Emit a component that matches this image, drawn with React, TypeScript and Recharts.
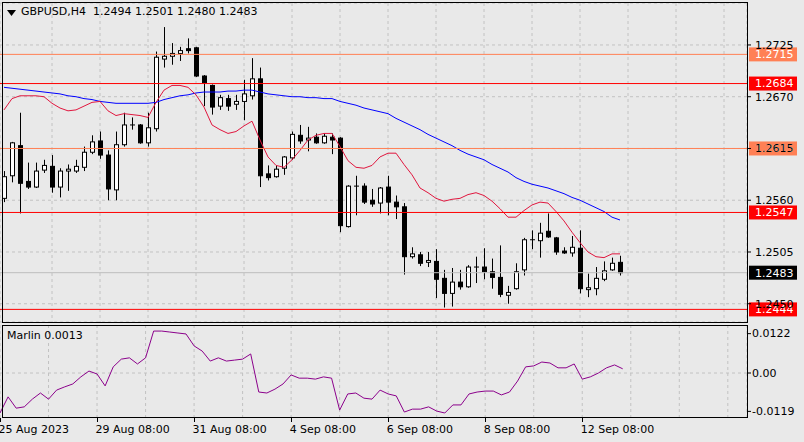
import React from "react"
import { ComposedChart, Bar, Line, XAxis, YAxis, CartesianGrid, ReferenceLine } from "recharts"

// GBPUSD H4, 78 bars (28 Aug .. 13 Sep 2023)
const symbol = "GBPUSD,H4"
const indicatorName = "Marlin"

const opens = [
  1.2562, 1.2586, 1.2618, 1.258, 1.2574, 1.2592, 1.2596, 1.2574, 1.2591, 1.2591,
  1.2595, 1.2611, 1.2623, 1.2608, 1.2571, 1.2619, 1.264, 1.264, 1.2621, 1.2636,
  1.271, 1.2713, 1.2716, 1.2721, 1.2722, 1.2692, 1.2682, 1.266, 1.2668, 1.2662,
  1.2665, 1.2671, 1.2689, 1.2588, 1.2585, 1.2594, 1.2605, 1.2629, 1.2624, 1.2627,
  1.2621, 1.2627, 1.2626, 1.2532, 1.2575, 1.2575, 1.256, 1.2557, 1.2574, 1.2558,
  1.2553, 1.25, 1.2502, 1.2494, 1.2495, 1.2477, 1.2461, 1.2473, 1.2468, 1.2489,
  1.2489, 1.2484, 1.2478, 1.2459, 1.2466, 1.2486, 1.2518, 1.2517, 1.2527, 1.252,
  1.2506, 1.2504, 1.2509, 1.2465, 1.2466, 1.2476, 1.2486, 1.2494,
]
const highs = [
  1.2591, 1.2622, 1.2653, 1.26, 1.26, 1.2603, 1.2608, 1.2594, 1.2598, 1.2603,
  1.2617, 1.2629, 1.2633, 1.2613, 1.2633, 1.2653, 1.2648, 1.2641, 1.2653, 1.2718,
  1.2744, 1.2727, 1.2723, 1.2732, 1.2723, 1.2693, 1.2683, 1.2672, 1.2672, 1.2672,
  1.2688, 1.2711, 1.2701, 1.2597, 1.2597, 1.2607, 1.2633, 1.264, 1.2638, 1.2631,
  1.2631, 1.2631, 1.2627, 1.2576, 1.2586, 1.2578, 1.2572, 1.2574, 1.2586, 1.2565,
  1.2557, 1.251, 1.2505, 1.2505, 1.2508, 1.2486, 1.2488, 1.2486, 1.2491, 1.25,
  1.2509, 1.2498, 1.2512, 1.2469, 1.2493, 1.252, 1.2528, 1.2536, 1.2546, 1.2521,
  1.251, 1.2522, 1.2528, 1.2482, 1.2489, 1.2495, 1.2499, 1.2501,
]
const lows = [
  1.2558, 1.2579, 1.2546, 1.2572, 1.2573, 1.2589, 1.2568, 1.2563, 1.257, 1.2589,
  1.2591, 1.2609, 1.2604, 1.256, 1.256, 1.2617, 1.2635, 1.262, 1.2617, 1.2633,
  1.2701, 1.2704, 1.2708, 1.2716, 1.2691, 1.266, 1.2651, 1.2656, 1.2655, 1.2656,
  1.2645, 1.2667, 1.2574, 1.2581, 1.2584, 1.2587, 1.2603, 1.262, 1.2612, 1.262,
  1.262, 1.2609, 1.2526, 1.2531, 1.2544, 1.2556, 1.2553, 1.2546, 1.2544, 1.254,
  1.2481, 1.2498, 1.249, 1.2489, 1.2456, 1.2446, 1.2447, 1.2465, 1.2467, 1.2472,
  1.2476, 1.2466, 1.2457, 1.245, 1.2465, 1.248, 1.2508, 1.2499, 1.252, 1.2502,
  1.2503, 1.25, 1.2461, 1.2457, 1.2459, 1.2474, 1.2485, 1.248,
]
const closes = [
  1.2585, 1.2621, 1.2578, 1.2574, 1.2591, 1.2597, 1.2574, 1.2591, 1.2593, 1.2596,
  1.2611, 1.2622, 1.2608, 1.2572, 1.2619, 1.264, 1.264, 1.2621, 1.2637, 1.2712,
  1.2713, 1.2716, 1.2719, 1.2719, 1.2692, 1.2685, 1.2659, 1.2669, 1.266, 1.2665,
  1.2673, 1.2689, 1.2586, 1.2584, 1.2593, 1.2606, 1.263, 1.2623, 1.2626, 1.2621,
  1.2628, 1.2624, 1.2533, 1.2575, 1.2574, 1.2558, 1.2556, 1.2573, 1.2558, 1.2553,
  1.25, 1.2503, 1.2493, 1.2496, 1.2476, 1.2461, 1.2473, 1.2468, 1.2489, 1.2488,
  1.2484, 1.2478, 1.246, 1.2462, 1.2484, 1.2518, 1.2517, 1.2525, 1.2521, 1.2505,
  1.2504, 1.251, 1.2466, 1.2467, 1.2477, 1.2485, 1.2493, 1.2483,
]
const fastMa = [
  1.2656, 1.2668, 1.2671, 1.2671, 1.2671, 1.267, 1.2663, 1.2658, 1.2655, 1.2656,
  1.266, 1.2664, 1.2665, 1.2655, 1.265, 1.2652, 1.2651, 1.265, 1.2648, 1.2664,
  1.2677, 1.2682, 1.2682, 1.268, 1.2672, 1.2659, 1.264, 1.2635, 1.2631, 1.2633,
  1.2639, 1.2644, 1.2624, 1.2606, 1.2597, 1.2595, 1.2603, 1.2613, 1.2624, 1.2629,
  1.2631, 1.2631, 1.2617, 1.2602, 1.2595, 1.2594, 1.2597, 1.2606, 1.261, 1.261,
  1.2598, 1.2587, 1.2573, 1.2568, 1.2562, 1.2559, 1.2561, 1.2562, 1.2566, 1.2568,
  1.2565, 1.2559, 1.2551, 1.2542, 1.2542, 1.2549, 1.2555, 1.2558, 1.2557, 1.2548,
  1.2538, 1.2526, 1.2515, 1.2505, 1.25, 1.2499, 1.2503, 1.2503,
]
const slowMa = [
  1.268, 1.2679, 1.2678, 1.2677, 1.2676, 1.2675, 1.2674, 1.2673, 1.2671, 1.267,
  1.2668, 1.2667, 1.2665, 1.2664, 1.2663, 1.2663, 1.2663, 1.2663, 1.2663, 1.2664,
  1.2667, 1.2669, 1.2671, 1.2672, 1.2674, 1.2675, 1.2675, 1.2675, 1.2676, 1.2676,
  1.2677, 1.2677, 1.2675, 1.2673, 1.2672, 1.2671, 1.267, 1.267, 1.2669, 1.2669,
  1.2668, 1.2668, 1.2665, 1.2663, 1.2661, 1.2658, 1.2656, 1.2654, 1.2652, 1.2647,
  1.2643, 1.2639, 1.2635, 1.263, 1.2626, 1.2622, 1.2618, 1.2613, 1.2609, 1.2606,
  1.2603, 1.2598, 1.2594, 1.259, 1.2584, 1.258, 1.2577, 1.2575, 1.2573, 1.257,
  1.2567, 1.2563, 1.256, 1.2556, 1.2552, 1.2548, 1.2542, 1.2539,
]
const marlin = [
  -0.0124, -0.0074, -0.0109, -0.0105, -0.0081, -0.0062, -0.0081, -0.0053, -0.0043, -0.0034,
  -0.0012, 0.0006, -0.0003, -0.004, 0.0019, 0.0043, 0.0047, 0.0028, 0.0047, 0.013,
  0.013, 0.0127, 0.0124, 0.0121, 0.0084, 0.0068, 0.0037, 0.0047, 0.0037, 0.004,
  0.0043, 0.0059, -0.0059, -0.0062, -0.005, -0.0034, -0.0006, -0.0016, -0.0016, -0.0019,
  -0.0012, -0.0016, -0.0115, -0.0065, -0.0062, -0.0078, -0.0081, -0.0053, -0.0065, -0.0071,
  -0.0121, -0.0112, -0.0112, -0.0105, -0.0118, -0.0124, -0.0099, -0.0099, -0.0065, -0.0059,
  -0.0056, -0.0056, -0.0068, -0.0059, -0.0025, 0.0019, 0.0022, 0.0034, 0.0031, 0.0016,
  0.0016, 0.0028, -0.0019, -0.0012, 0.0, 0.0016, 0.0025, 0.0013,
]

const timeTickIdx = [0, 12, 24, 36, 48, 60, 72]
const timeTickText = ["25 Aug 2023", "29 Aug 08:00", "31 Aug 08:00", "4 Sep 08:00", "6 Sep 08:00", "8 Sep 08:00", "12 Sep 08:00"]
const gridIdx = [6, 12, 18, 24, 30, 36, 42, 48, 54, 60, 66, 72, 78, 84, 90]
const priceTicks = [1.245, 1.2505, 1.256, 1.2615, 1.267, 1.2725]
const marlinTicks = [-0.0119, 0, 0.0122]
const redLevels = [1.2684, 1.2547, 1.2444]
const softLevels = [1.2715, 1.2615]

const SLOTS = 93 // bars + empty space to the right
const FONT = "'DejaVu Sans', Verdana, sans-serif"
const BG = "#e9e9e9"
const RED = "#ff0000"
const SOFT = "#ff8055"

const last = opens.length - 1
const rows = Array.from({ length: SLOTS }, (_, i) =>
  i <= last
    ? {
        i,
        open: opens[i],
        high: highs[i],
        low: lows[i],
        close: closes[i],
        range: [lows[i], highs[i]],
        fast: fastMa[i],
        slow: slowMa[i],
        marlin: marlin[i],
      }
    : { i }
)

function Candle(props: any) {
  const { x, y, width, height, payload } = props
  if (!payload || payload.open == null) return null
  const { open, high, low, close } = payload
  const top = Math.min(y, y + height)
  const h = Math.abs(height)
  const k = h / (high - low)
  const py = (p: number) => top + (high - p) * k
  const cx = Math.round(x + width / 2) + 0.5
  const bTop = py(Math.max(open, close))
  const bBot = py(Math.min(open, close))
  return (
    <g>
      <line x1={cx} x2={cx} y1={top} y2={top + h} stroke="#000" />
      {bBot - bTop < 1 ? (
        <line x1={cx - 2.5} x2={cx + 2.5} y1={bTop} y2={bTop} stroke="#000" />
      ) : (
        <rect x={cx - 2} y={bTop} width={4} height={bBot - bTop} fill={close >= open ? "#fff" : "#000"} stroke="#000" />
      )}
    </g>
  )
}

function PriceTick(props: any) {
  const { y, payload } = props
  return (
    <g>
      <line x1={748} x2={751} y1={y} y2={y} stroke="#000" />
      <text x={755} y={y} dy="0.35em" fontSize={11} fontFamily={FONT} fill="#000">
        {payload.value.toFixed(4)}
      </text>
    </g>
  )
}

function MarlinTick(props: any) {
  const { y, payload } = props
  return (
    <g>
      <line x1={748} x2={751} y1={y} y2={y} stroke="#000" />
      <text x={752} y={y} dy="0.35em" fontSize={11} fontFamily={FONT} fill="#000">
        {payload.value === 0 ? "0.00" : payload.value.toFixed(4)}
      </text>
    </g>
  )
}

function TimeTick(props: any) {
  const { x, payload } = props
  const k = timeTickIdx.indexOf(payload.value)
  const px = Math.round(x) + 0.5
  return (
    <g>
      <line x1={px} x2={px} y1={93} y2={97} stroke="#000" />
      <text x={x - 1.5} y={108} fontSize={11} fontFamily={FONT} fill="#000">
        {timeTickText[k]}
      </text>
    </g>
  )
}

const priceTag = (value: number, bg: string) => (p: any) => {
  const vy = p.viewBox ? p.viewBox.y : 0
  return (
    <g>
      <rect x={749} y={vy - 7} width={48} height={14} fill={bg} />
      <text x={755} y={vy} dy="0.35em" fontSize={11} fontFamily={FONT} fill="#fff">
        {value.toFixed(4)}
      </text>
    </g>
  )
}

export default function App() {
  const title = `${symbol}  ${opens[last].toFixed(4)} ${highs[last].toFixed(4)} ${lows[last].toFixed(4)} ${closes[last].toFixed(4)}`
  return (
    <div style={{ position: "absolute", left: 0, top: 0, width: 804, height: 442, background: BG, overflow: "hidden", fontFamily: FONT }}>
      <div style={{ position: "absolute", left: 0, top: 0 }}>
        <ComposedChart width={804} height={325} data={rows} margin={{ top: 3, right: 0, bottom: 3, left: 0 }}>
          <CartesianGrid stroke="#c2c2c2" strokeDasharray="3 3" />
          <XAxis dataKey="i" type="category" hide ticks={gridIdx} interval={0} padding={{ left: 0, right: 3 }} />
          <YAxis
            orientation="right"
            width={57}
            domain={[1.24306, 1.27696]}
            allowDataOverflow
            ticks={priceTicks}
            interval={0}
            tick={<PriceTick />}
            axisLine={false}
            tickLine={false}
          />
          <Bar dataKey="range" barSize={6} shape={(p: any) => <Candle {...p} />} isAnimationActive={false} />
          <Line dataKey="slow" stroke="#0000ff" strokeWidth={1} dot={false} type="linear" isAnimationActive={false} />
          <Line dataKey="fast" stroke="#e0163e" strokeWidth={1} dot={false} type="linear" isAnimationActive={false} />
          {softLevels.map((v) => (
            <ReferenceLine key={v} y={v} stroke={SOFT} strokeWidth={1} label={priceTag(v, SOFT)} />
          ))}
          {redLevels.map((v) => (
            <ReferenceLine key={v} y={v} stroke={RED} strokeWidth={1} label={priceTag(v, RED)} />
          ))}
          <ReferenceLine y={closes[last]} stroke="#bdbdbd" label={priceTag(closes[last], "#000")} />
        </ComposedChart>
      </div>
      <div style={{ position: "absolute", left: 0, top: 325 }}>
        <ComposedChart width={804} height={117} data={rows} margin={{ top: 0, right: 0, bottom: 0, left: 0 }}>
          <CartesianGrid xAxisId="grid" stroke="#c2c2c2" strokeDasharray="3 3" horizontal={false} />
          <XAxis xAxisId="grid" dataKey="i" type="category" hide ticks={gridIdx} interval={0} padding={{ left: 0, right: 3 }} />
          <XAxis
            xAxisId="time"
            dataKey="i"
            type="category"
            height={24}
            ticks={timeTickIdx}
            interval={0}
            padding={{ left: 0, right: 3 }}
            tick={<TimeTick />}
            axisLine={false}
            tickLine={false}
          />
          <YAxis
            orientation="right"
            width={57}
            domain={[-0.01395, 0.01488]}
            allowDataOverflow
            ticks={marlinTicks}
            interval={0}
            tick={<MarlinTick />}
            axisLine={false}
            tickLine={false}
          />
          <ReferenceLine xAxisId="time" y={0} stroke="#c2c2c2" strokeDasharray="3 3" />
          <Line xAxisId="time" dataKey="marlin" stroke="#8b008b" strokeWidth={1} dot={false} type="linear" isAnimationActive={false} />
        </ComposedChart>
      </div>
      <div style={{ position: "absolute", left: 2, top: 2, width: 746, height: 321, border: "1px solid #000", boxSizing: "border-box", pointerEvents: "none" }} />
      <div style={{ position: "absolute", left: 2, top: 325, width: 746, height: 93, border: "1px solid #000", boxSizing: "border-box", pointerEvents: "none" }} />
      <svg style={{ position: "absolute", left: 7, top: 10 }} width={9} height={6}>
        <polygon points="0,0 9,0 4.5,6" fill="#000" />
      </svg>
      <div style={{ position: "absolute", left: 21, top: 5, fontSize: 11, lineHeight: "14px", whiteSpace: "pre", color: "#000" }}>
        {title}
      </div>
      <div style={{ position: "absolute", left: 7, top: 329, fontSize: 11, lineHeight: "14px", whiteSpace: "pre", color: "#000" }}>
        {`${indicatorName} ${marlin[last].toFixed(4)}`}
      </div>
    </div>
  )
}
